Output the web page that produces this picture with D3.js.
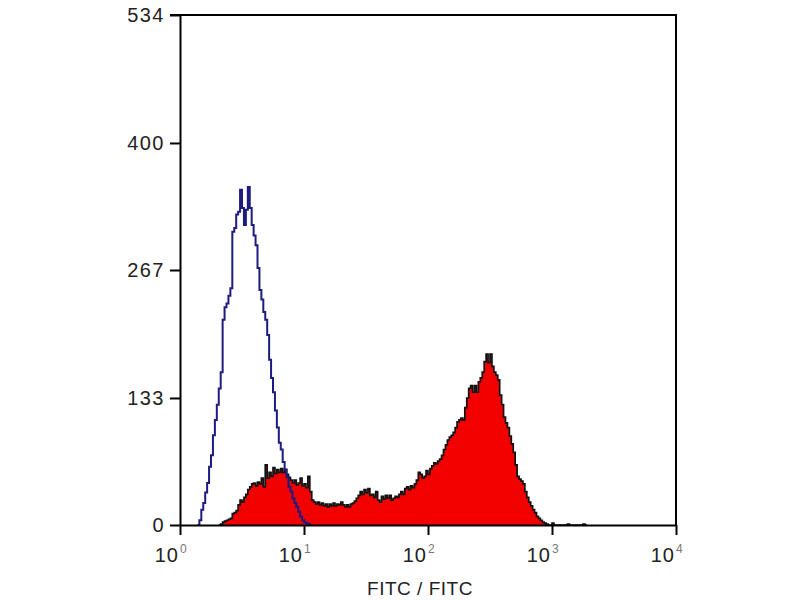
<!DOCTYPE html>
<html>
<head>
<meta charset="utf-8">
<script src="https://cdn.jsdelivr.net/npm/d3@7/dist/d3.min.js"></script>
<style>
  html, body { margin: 0; padding: 0; background: #fff; }
  svg { display: block; }
  text { font-family: "Liberation Sans", Arial, sans-serif; fill: #222; }
</style>
</head>
<body>
<svg id="chart" width="800" height="600"></svg>
<script>
// ---------- data ----------
const channelCount = 256;          // histogram channels over 4 decades
const xDomain = [1, 10000];
const yTicks = [0, 133, 267, 400, 534];
const xTickExponents = [0, 1, 2, 3, 4];
const xLabel = "FITC / FITC";

// stained sample (filled red), counts per channel starting at redStart
const redStart = 20;
const redCounts = [
  0,1,3,4,5,6,7,12,13,15,
  21,26,24,29,32,37,40,43,44,41,
  45,43,49,40,63,49,55,51,60,54,
  58,55,59,55,58,53,50,47,44,47,
  42,44,49,41,43,39,51,35,26,24,
  22,24,21,23,20,22,19,22,20,23,
  20,22,21,24,21,19,21,19,22,23,
  25,28,31,35,32,37,34,38,31,32,
  29,35,26,24,30,27,31,28,31,26,
  28,30,29,32,35,32,38,40,37,41,
  39,43,47,55,53,49,51,57,53,59,
  62,65,64,67,69,73,79,84,89,92,
  94,97,102,108,110,112,110,123,133,143,
  146,139,146,139,150,154,160,171,179,170,
  179,166,160,157,152,136,126,113,107,102,
  93,85,76,63,51,48,46,43,35,29,
  24,20,16,13,9,7,5,3,2,1,
  0,0,2,0,0,0,0,0,0,0,
  1,0,0,0,0,0,0,0,1,0
];

// isotype control (blue outline), counts per channel starting at blueStart
const blueStart = 9;
const blueCounts = [
  0,5,16,23,34,44,61,73,94,110,126,
  143,160,215,228,232,240,248,307,311,325,
  328,351,332,314,330,354,332,314,303,293,
  269,246,236,223,215,199,173,154,139,120,
  102,86,79,66,58,50,40,35,28,23,
  19,14,9,5,3,2,1,0
];

// ---------- layout ----------
const mLeft = 180, mRight = 676, mTop = 15, mBottom = 525;
const svg = d3.select("#chart");

const x = d3.scaleLog().domain(xDomain).range([mLeft, mRight]);
const y = d3.scaleLinear().domain([0, 534]).range([mBottom, mTop]);

const chValue = ch => Math.pow(10, Math.log10(xDomain[1]) * ch / channelCount);

function toPoints(start, counts) {
  const pts = counts.map((c, i) => ({ v: chValue(start + i), c }));
  pts.push({ v: chValue(start + counts.length), c: 0 });
  return pts;
}

const redPts = toPoints(redStart, redCounts);
const bluePts = toPoints(blueStart, blueCounts);

const area = d3.area()
  .x(d => x(d.v)).y0(y(0)).y1(d => y(d.c))
  .curve(d3.curveStepAfter);
const line = d3.line()
  .x(d => x(d.v)).y(d => y(d.c))
  .curve(d3.curveStepAfter);

svg.append("path").datum(redPts)
  .attr("d", area).attr("fill", "#f20000");
svg.append("path").datum(redPts)
  .attr("d", line).attr("fill", "none")
  .attr("stroke", "#111").attr("stroke-width", 1.7);
svg.append("path").datum(bluePts)
  .attr("d", line).attr("fill", "none")
  .attr("stroke", "#1c1c80").attr("stroke-width", 2);

// ---------- axes / frame ----------
const yAxis = d3.axisLeft(y).tickValues(yTicks).tickSize(10).tickPadding(5).tickSizeOuter(0);
const gy = svg.append("g").attr("transform", `translate(${mLeft},0)`).call(yAxis);
gy.selectAll("text").style("font-size", "20px").style("letter-spacing", "1.5px")
  .style("font-family", "'Liberation Sans', Arial, sans-serif").attr("fill", "#222");

const xAxis = d3.axisBottom(x).tickValues(xTickExponents.map(e => Math.pow(10, e)))
  .tickSize(10).tickFormat("").tickSizeOuter(0);
const gx = svg.append("g").attr("transform", `translate(0,${mBottom})`).call(xAxis);

[gx, gy].forEach(g => {
  g.select(".domain").attr("stroke", "#000").attr("stroke-width", 2);
  g.selectAll(".tick line").attr("stroke", "#000").attr("stroke-width", 2);
});

// top and right frame
svg.append("line").attr("x1", mLeft - 10).attr("x2", mRight + 1).attr("y1", mTop).attr("y2", mTop)
  .attr("stroke", "#000").attr("stroke-width", 2);
svg.append("line").attr("x1", mRight).attr("x2", mRight).attr("y1", mTop).attr("y2", mBottom)
  .attr("stroke", "#000").attr("stroke-width", 2);

// x tick labels 10^n
const xl = svg.append("g").selectAll("g").data(xTickExponents).join("g")
  .attr("transform", e => `translate(${x(Math.pow(10, e))},562)`);
xl.append("text").attr("x", -1).attr("text-anchor", "end")
  .style("font-size", "20px").style("letter-spacing", "1px").text("10");
xl.append("text").attr("x", 0).attr("y", -9).attr("text-anchor", "start")
  .style("font-size", "12px").style("fill", "#777").text(e => e);

// axis title
svg.append("text").attr("x", 420).attr("y", 595).attr("text-anchor", "middle")
  .style("font-size", "19px").style("letter-spacing", "0.5px").text(xLabel);
</script>
</body>
</html>
